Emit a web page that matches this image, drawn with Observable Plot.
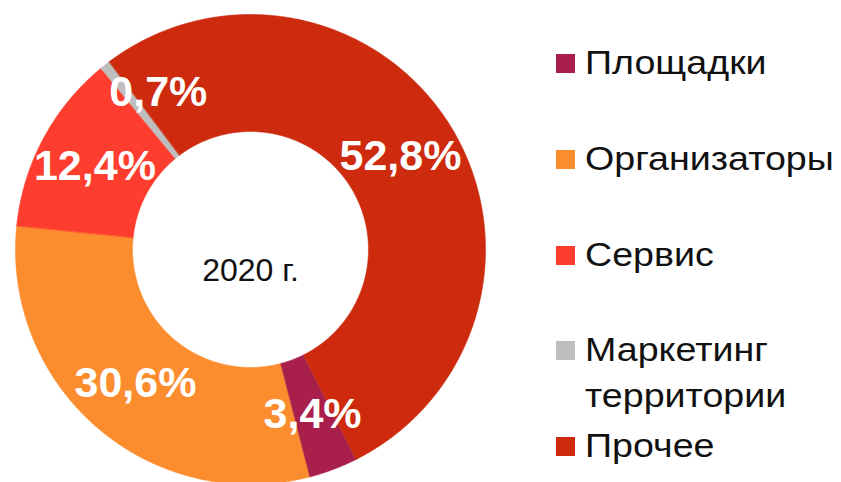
<!DOCTYPE html>
<html>
<head>
<meta charset="utf-8">
<script src="https://cdn.jsdelivr.net/npm/d3@7"></script>
<script src="https://cdn.jsdelivr.net/npm/@observablehq/plot@0.6"></script>
<style>
  html, body { margin: 0; padding: 0; background: #fff; }
  #wrap { position: relative; width: 841px; height: 482px; overflow: hidden; font-family: "Liberation Sans", Arial, sans-serif; }
  #legend { position: absolute; left: 556px; top: 41px; }
  .row { display: flex; align-items: flex-start; height: 95.75px; }
  .sw { width: 19px; height: 19px; margin-top: 13px; margin-right: 10px; flex: none; }
  .lab { font-size: 33px; line-height: 46px; color: #111; white-space: nowrap; transform: scaleX(1.14); transform-origin: 0 0; margin-top: -1px; }
</style>
</head>
<body>
<div id="wrap"><div id="legend"></div></div>
<script>
const categories = ["Площадки", "Организаторы", "Сервис", "Маркетинг территории", "Прочее"];
const legendLines = [["Площадки"], ["Организаторы"], ["Сервис"], ["Маркетинг", "территории"], ["Прочее"]];
const values = [3.4, 30.6, 12.4, 0.7, 52.8];
const colors = ["#A91F4B", "#FC8D2E", "#FF3D2E", "#BEBEBE", "#CD2A0E"];
const centerLabel = "2020 г.";
const startDeg = 153.3;
const innerR = 0.502, outerR = 1;

const data = categories.map((name, i) => ({name, value: values[i]}));
const a0 = startDeg * Math.PI / 180;
const arcs = d3.pie().sort(null).value(d => d.value).startAngle(a0).endAngle(a0 + 2 * Math.PI)(data);

const pts = [];
for (const a of arcs) {
  const n = Math.max(4, Math.ceil((a.endAngle - a.startAngle) / 0.005));
  for (let k = 0; k <= n; k++) {
    const t = a.startAngle + (a.endAngle - a.startAngle) * k / n;
    pts.push({name: a.data.name, x: Math.sin(t) * outerR, y: -Math.cos(t) * outerR});
  }
  for (let k = n; k >= 0; k--) {
    const t = a.startAngle + (a.endAngle - a.startAngle) * k / n;
    pts.push({name: a.data.name, x: Math.sin(t) * innerR, y: -Math.cos(t) * innerR});
  }
}
const fmt = v => v.toFixed(1).replace(".", ",") + "%";
const labels = arcs.map(a => {
  const m = (a.startAngle + a.endAngle) / 2, r = (innerR + outerR) / 2;
  return {name: a.data.name, text: fmt(a.data.value), x: Math.sin(m) * r, y: -Math.cos(m) * r, small: a.data.value < 2};
});

const chart = Plot.plot({
  width: 841, height: 482, margin: 0,
  style: {background: "transparent"},
  x: {domain: [-1, 1], range: [15, 485], axis: null},
  y: {domain: [-1, 1], range: [14, 484], axis: null},
  color: {domain: categories, range: colors},
  marks: [
    Plot.line(pts, {x: "x", y: "y", z: "name", fill: "name", stroke: "name", strokeWidth: 0.6, curve: "linear-closed"}),
    Plot.text(labels.filter(d => !d.small), {x: "x", y: "y", text: "text", fill: "white", fontSize: 43, fontWeight: "bold", fontFamily: "Liberation Sans, Arial, sans-serif"}),
    Plot.text(labels.filter(d => d.small), {x: "x", y: "y", text: "text", dx: 17, dy: -19, fill: "white", fontSize: 43, fontWeight: "bold", fontFamily: "Liberation Sans, Arial, sans-serif"}),
    Plot.text([centerLabel], {x: () => 0, y: () => 0, text: d => d, dy: 21, fill: "#111", fontSize: 32, fontFamily: "Liberation Sans, Arial, sans-serif"})
  ]
});
const wrap = document.getElementById("wrap");
wrap.insertBefore(chart, wrap.firstChild);

const legend = document.getElementById("legend");
categories.forEach((c, i) => {
  const row = document.createElement("div");
  row.className = "row";
  const sw = document.createElement("div");
  sw.className = "sw";
  sw.style.background = colors[i];
  const lab = document.createElement("div");
  lab.className = "lab";
  lab.innerHTML = legendLines[i].join("<br>");
  row.appendChild(sw); row.appendChild(lab);
  legend.appendChild(row);
});
</script>
</body>
</html>
